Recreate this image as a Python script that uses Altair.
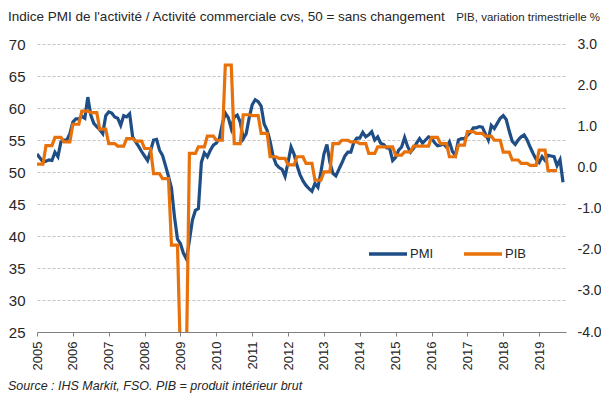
import altair as alt
import pandas as pd

# ---------------- data ----------------
# PMI (monthly, Jan 2005 .. Sep 2019)
pmi_2005 = [52.8, 52.2, 51.6, 51.7, 51.9, 51.8, 53.1, 52.4, 54.7, 55.0, 55.0, 56.0]
pmi_2006 = [57.8, 58.3, 58.3, 58.7, 58.4, 61.7, 58.9, 57.6, 57.1, 56.6, 56.0, 58.8]
pmi_2007 = [59.4, 59.2, 58.6, 58.4, 57.3, 58.8, 58.6, 59.1, 55.5, 54.7, 54.0, 53.2]
pmi_2008 = [52.5, 51.8, 53.3, 55.0, 55.1, 53.4, 52.6, 51.0, 49.3, 47.5, 43.0, 39.5]
pmi_2009 = [38.8, 37.3, 36.4, 39.3, 42.5, 44.0, 44.3, 51.5, 53.0, 52.4, 53.4, 54.2]
pmi_2010 = [54.5, 55.2, 57.5, 59.2, 58.5, 56.8, 58.6, 58.9, 57.8, 55.2, 56.0, 58.5]
pmi_2011 = [60.5, 61.3, 61.0, 60.3, 57.5, 56.5, 54.8, 52.5, 51.2, 50.7, 50.4, 49.3]
pmi_2012 = [51.5, 53.9, 52.8, 51.0, 49.6, 48.6, 47.9, 47.4, 47.0, 48.2, 47.6, 50.0]
pmi_2013 = [52.8, 54.3, 51.5, 49.8, 49.4, 50.4, 51.4, 52.5, 53.1, 53.1, 54.6, 55.3]
pmi_2014 = [55.3, 56.2, 55.5, 55.8, 56.3, 55.0, 55.5, 54.5, 54.3, 53.8, 53.7, 51.8]
pmi_2015 = [52.3, 53.4, 53.9, 55.4, 54.0, 53.1, 53.7, 54.5, 55.2, 54.5, 55.0, 55.5]
pmi_2016 = [55.3, 54.6, 54.1, 54.2, 54.4, 53.9, 54.7, 53.2, 52.6, 55.0, 55.2, 55.2]
pmi_2017 = [55.7, 56.2, 56.9, 56.9, 57.1, 57.0, 56.0, 55.0, 57.3, 56.8, 57.6, 58.4]
pmi_2018 = [58.8, 58.2, 56.4, 54.8, 54.3, 55.0, 55.5, 55.8, 55.0, 53.9, 52.9, 52.0]
pmi_2019 = [51.5, 52.4, 51.8, 52.6, 52.5, 52.4, 51.0, 51.9, 48.4]

pmi = (pmi_2005 + pmi_2006 + pmi_2007 + pmi_2008 + pmi_2009 + pmi_2010 + pmi_2011
       + pmi_2012 + pmi_2013 + pmi_2014 + pmi_2015 + pmi_2016 + pmi_2017
       + pmi_2018 + pmi_2019)

# PIB, quarterly change in % (2005Q1 .. 2019Q2); 2009Q1 is below the axis floor
pib_q = [0.08, 0.53, 0.73, 0.62,
         1.05, 1.37, 1.33, 0.93,
         0.58, 0.52, 0.70, 0.64,
         0.46, -0.15, -0.27, -1.89,
         -4.6, 0.34, 0.50, 0.76,
         0.66, 2.49, 0.58, 1.28,
         1.26, 0.83, 0.26, 0.22,
         0.06, 0.26, 0.10, -0.31,
         -0.11, 0.58, 0.66, 0.62,
         0.58, 0.34, 0.50, 0.50,
         0.30, 0.38, 0.52, 0.52,
         0.73, 0.58, 0.26, 0.54,
         0.87, 0.83, 0.76, 0.66,
         0.37, 0.18, 0.10, 0.05,
         0.42, -0.08]
pib_months = 175  # quarterly value shown on each month of the quarter

series_names = ["PMI", "PIB"]
left_ticks = [25, 30, 35, 40, 45, 50, 55, 60, 65, 70]
right_ticks = [-4, -3, -2, -1, 0, 1, 2, 3]
year_ticks = list(range(2005, 2020))

title_left = "Indice PMI de l'activité / Activité commerciale cvs, 50 = sans changement"
title_right = "PIB, variation trimestrielle %"
source_text = "Source : IHS Markit, FSO. PIB = produit intérieur brut"

# ---------------- tables ----------------
pmi_df = pd.DataFrame({
    "t": [2005 + i / 12 for i in range(len(pmi))],
    "v": pmi,
    "series": "PMI",
})
pib_df = pd.DataFrame({
    "t": [2005 + i / 12 for i in range(pib_months)],
    "v": [pib_q[min(i // 3, len(pib_q) - 1)] for i in range(pib_months)],
    "series": "PIB",
})

BLUE = "#1F4E87"
ORANGE = "#E8710A"
FONT = "Liberation Sans"
TXT = "#262626"

color = alt.Color(
    "series:N",
    scale=alt.Scale(domain=series_names, range=[BLUE, ORANGE]),
    legend=alt.Legend(
        title=None, orient="none", legendX=330, legendY=189,
        direction="horizontal", symbolType="stroke", symbolSize=1444,
        symbolStrokeWidth=3.5, labelFontSize=13, labelFont=FONT,
        labelColor=TXT, columnPadding=23, labelOffset=1, padding=0,
    ),
)

x = alt.X(
    "t:Q",
    scale=alt.Scale(domain=[2005, 2019.75], nice=False, zero=False),
    axis=alt.Axis(
        values=year_ticks, format="d", labelAngle=270, title=None, grid=False,
        ticks=True, tickSize=4, tickColor="#7f7f7f", domainColor="#7f7f7f",
        labelFontSize=13, labelFont=FONT, labelColor=TXT, labelPadding=5,
        labelAlign="right", labelBaseline="middle",
    ),
)

pmi_line = alt.Chart(pmi_df).mark_line(strokeWidth=3.2, clip=True).encode(
    x=x,
    y=alt.Y(
        "v:Q",
        scale=alt.Scale(domain=[25, 70], nice=False, zero=False),
        axis=alt.Axis(
            values=left_ticks, title=None, grid=True, gridDash=[3, 2],
            gridColor="#c4c4c4", domain=False, ticks=False,
            labelFontSize=15, labelFont=FONT, labelColor=TXT, labelPadding=12,
        ),
    ),
    color=color,
)

pib_line = alt.Chart(pib_df).mark_line(strokeWidth=3.2, clip=True).encode(
    x=x,
    y=alt.Y(
        "v:Q",
        scale=alt.Scale(domain=[-4, 3], nice=False, zero=False),
        axis=alt.Axis(
            orient="right", values=right_ticks, title=None, grid=False,
            domain=False, ticks=False,
            labelExpr="replace(format(datum.value, '.1f'), '\u2212', '-')",
            labelFontSize=14, labelFont=FONT, labelColor=TXT, labelPadding=11,
        ),
    ),
    color=color,
)

ann = pd.DataFrame({"dummy": [0]})
t_left = alt.Chart(ann).mark_text(
    text=title_left, align="left", baseline="alphabetic", font=FONT,
    fontSize=13.5, color=TXT,
).encode(x=alt.value(-29), y=alt.value(-23))
t_right = alt.Chart(ann).mark_text(
    text=title_right, align="right", baseline="alphabetic", font=FONT,
    fontSize=11.5, color=TXT,
).encode(x=alt.value(563), y=alt.value(-23))
t_src = alt.Chart(ann).mark_text(
    text=source_text, align="left", baseline="alphabetic", font=FONT,
    fontSize=12.5, fontStyle="italic", color=TXT,
).encode(x=alt.value(-29), y=alt.value(346))

chart = (
    alt.layer(pmi_line, pib_line, t_left, t_right, t_src)
    .resolve_scale(y="independent")
    .properties(
        width=529, height=288,
        autosize=alt.AutoSizeParams(type="none"),
        padding={"left": 29, "top": 36, "right": 35, "bottom": 63},
        background="white",
    )
    .configure_view(stroke=None)
)

chart.save("out.html", embed_options={"renderer": "svg", "actions": False})
